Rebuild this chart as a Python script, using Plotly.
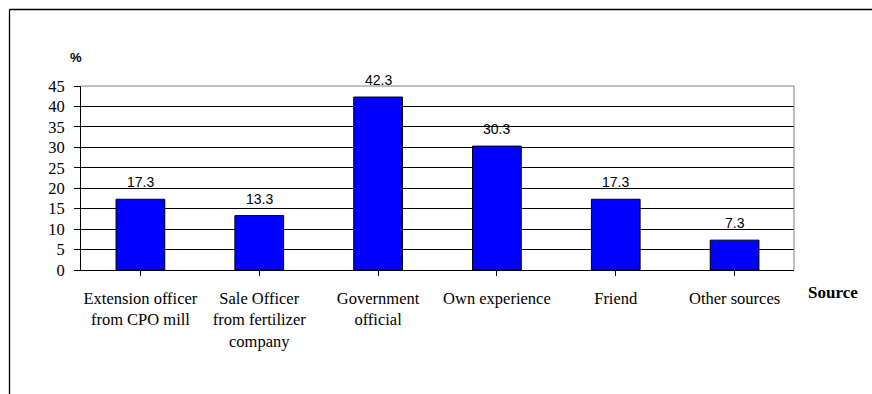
import plotly.graph_objects as go

# Sources of information and the share of respondents (%) naming each
categories = [
    "Extension officer<br>from CPO mill",
    "Sale Officer<br>from fertilizer<br>company",
    "Government<br>official",
    "Own experience",
    "Friend",
    "Other sources",
]
shares = [17.3, 13.3, 42.3, 30.3, 17.3, 7.3]
y_ticks = [0, 5, 10, 15, 20, 25, 30, 35, 40, 45]

W, H = 872, 394
L, R, T, B = 81, 78, 86, 124
pw, ph = W - L - R, H - T - B

serif = "Liberation Serif"
sans = "Liberation Sans"

fig = go.Figure()
fig.add_trace(go.Bar(
    x=list(range(len(categories))),
    y=shares,
    marker=dict(color="#0000FF", line=dict(color="#000000", width=1)),
    width=0.41,
    hoverinfo="skip",
))

# value labels above each bar
for i, v in enumerate(shares):
    fig.add_annotation(
        x=i, y=v, text=f"{v:.1f}", showarrow=False,
        yanchor="bottom", yshift=7,
        font=dict(family=sans, size=14, color="#000000"),
    )

# axis titles
fig.add_annotation(
    xref="paper", yref="paper",
    x=(75.5 - L) / pw, y=(H - B - 57) / ph,
    text="<b>%</b>", showarrow=False, xanchor="center", yanchor="middle",
    font=dict(family=sans, size=13, color="#000000"),
)
fig.add_annotation(
    xref="paper", yref="paper",
    x=(806 - L) / pw, y=(H - B - 292) / ph,
    text="<b>Source</b>", showarrow=False, xanchor="left", yanchor="middle",
    font=dict(family=serif, size=17, color="#000000"),
)

# plot-area frame (top and right, gray)
fig.add_shape(type="line", xref="paper", yref="paper", x0=0, x1=1, y0=1, y1=1,
              line=dict(color="#808080", width=1))
fig.add_shape(type="line", xref="paper", yref="paper", x0=1, x1=1, y0=0, y1=1,
              line=dict(color="#808080", width=1))

# outer chart frame (left and top edges)
ox = (9.5 - L) / pw
oy = (H - B - 9.5) / ph
fig.add_shape(type="line", xref="paper", yref="paper", x0=ox, x1=(W + 5 - L) / pw,
              y0=oy, y1=oy, line=dict(color="#000000", width=1.3))
fig.add_shape(type="line", xref="paper", yref="paper", x0=ox, x1=ox,
              y0=oy, y1=-(B + 5) / ph, line=dict(color="#000000", width=1.3))

fig.update_layout(
    width=W, height=H,
    margin=dict(l=L, r=R, t=T, b=B, pad=0),
    paper_bgcolor="white", plot_bgcolor="white",
    showlegend=False,
    font=dict(family=serif),
    xaxis=dict(
        tickmode="array",
        tickvals=list(range(len(categories))),
        ticktext=categories,
        range=[-0.5, len(categories) - 0.5],
        tickson="boundaries",
        ticks="outside", ticklen=5, tickcolor="#000000", tickwidth=1,
        showline=True, linecolor="#000000", linewidth=1,
        showgrid=False, zeroline=False,
        tickfont=dict(family=serif, size=16.5, color="#000000"),
        ticklabelstandoff=8,
    ),
    yaxis=dict(
        range=[0, 45],
        tickmode="array", tickvals=y_ticks,
        ticks="outside", ticklen=6, tickcolor="#000000", tickwidth=1,
        showline=True, linecolor="#000000", linewidth=1,
        showgrid=True, gridcolor="#000000", gridwidth=1,
        zeroline=False,
        tickfont=dict(family=serif, size=16.5, color="#000000"),
        ticklabelstandoff=6,
    ),
)

fig.write_html("out.html")
